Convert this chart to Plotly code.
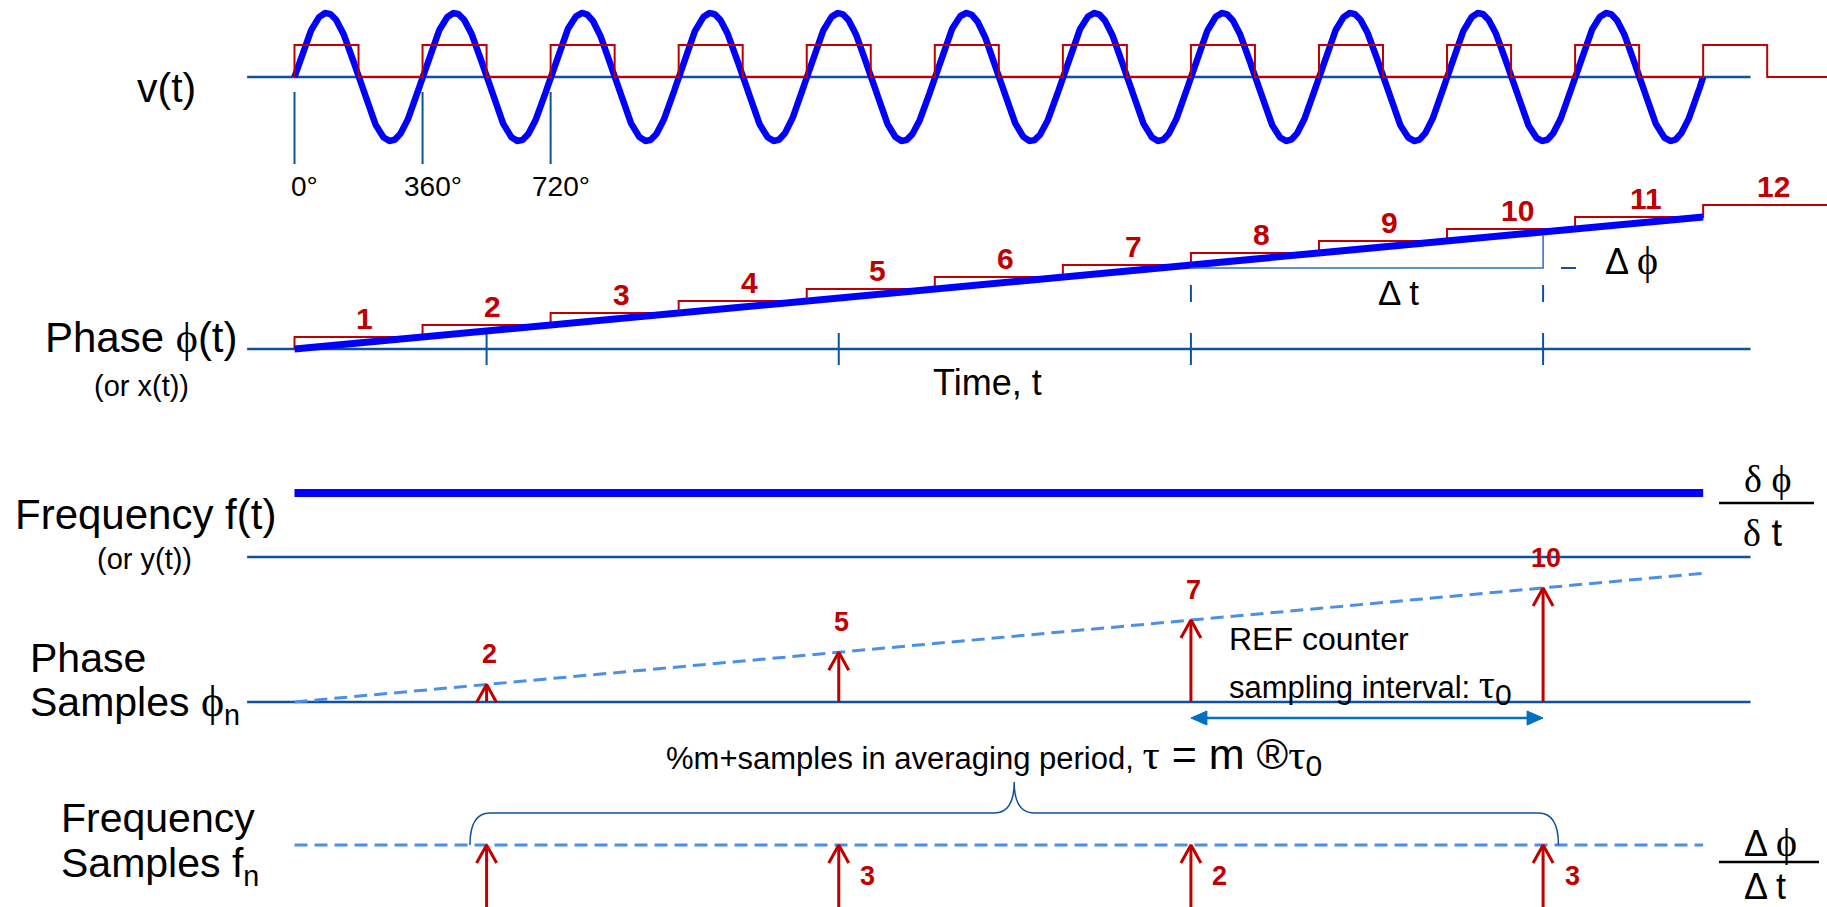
import numpy as np
import plotly.graph_objects as go

# ---------------- data ----------------
N_CYCLES = 11                                   # sine cycles drawn
degree_cycles = [0, 1, 2]                       # cycles carrying a degree marker
degree_labels = ["0°", "360°", "720°"]
step_counts = [1, 2, 3, 4, 5, 6, 7, 8, 9, 10, 11, 12]   # cycle counter values
sample_times = [1.5, 4.25, 7.0, 9.75]           # REF sampling instants (cycles)
phase_samples = ["2", "5", "7", "10"]           # counter read at each sample
freq_samples = ["", "3", "2", "3"]              # differences of successive samples

# ---------------- layout constants ----------------
W, H = 1827, 907
X0, PERIOD = 294.5, 128.06          # pixel column of t=0, pixels per cycle
XMIN, XMAX = -X0 / PERIOD, (W - X0) / PERIOD
AX_L, AX_R = -0.37, 11.37            # extent of the baseline rules (cycles)

Y_V, V_AMP, SQ_H = 77, 64, 32
Y_PH, PH_SCALE = 349, 12.0
Y_F, Y_FAX = 493, 557
Y_PS, PS_SCALE = 702, 11.7
Y_FS = 845

AXC = "#1050a0"
BLUE = "#0000ff"
RED = "#c00000"
DASHC = "#4a90e8"
ARR2 = "#0070c0"
BRK = "#2e6db4"
SANS = "Liberation Sans, Arial, sans-serif"
SER = "Liberation Serif,DejaVu Serif"


def T(p):
    return (p - X0) / PERIOD


def dx(p):
    return p / PERIOD


fig = go.Figure()


def line(xs, ys, color, width, dash=None, fill=None):
    fig.add_trace(go.Scatter(x=xs, y=ys, mode="lines",
                             line=dict(color=color, width=width, dash=dash),
                             fill=fill, fillcolor=color if fill else None,
                             hoverinfo="skip", showlegend=False))


def sp(s):
    return '<span style="font-family:%s">%s</span>' % (SER, s)


def text(x, y, s, size, anchor="center", color="black", bold=False, xshift=0, yshift=0, data=False):
    fig.add_annotation(x=x if data else T(x), y=y, text=("<b>%s</b>" % s) if bold else s,
                       showarrow=False, xanchor=anchor, yanchor="middle",
                       xshift=xshift, yshift=yshift,
                       font=dict(family=SANS, size=size, color=color))


# ---------- panel 1 : v(t) ----------
line([AX_L, AX_R], [Y_V, Y_V], AXC, 2.5)
tt = np.linspace(0, N_CYCLES, 3000)
line(tt, Y_V - V_AMP * np.sin(2 * np.pi * tt), BLUE, 6.5)
sx, sy = [], []
for n in range(N_CYCLES + 1):
    sx += [n, n, n + 0.5, n + 0.5]
    sy += [Y_V, Y_V - SQ_H, Y_V - SQ_H, Y_V]
sx.append(XMAX + 0.1)
sy.append(Y_V)
line(sx, sy, RED, 2)
for c, lab in zip(degree_cycles, degree_labels):
    line([c, c], [92, 164], AXC, 2)
    text(c, 186, lab, 28, xshift=10, data=True)
text(166, 88, "v(t)", 41)

# ---------- panel 2 : phase ----------
line([AX_L, AX_R], [Y_PH, Y_PH], AXC, 2.5)
for ts in sample_times:
    line([ts, ts], [333, 365], AXC, 2)
for ts in sample_times[2:]:
    line([ts, ts], [285, 302], AXC, 2)
px_, py_ = [0], [Y_PH]
for k in step_counts:
    yk = Y_PH - PH_SCALE * k
    px_ += [k - 1, k if k < step_counts[-1] else XMAX + 0.1]
    py_ += [yk, yk]
line(px_, py_, RED, 2)
line([0, N_CYCLES], [Y_PH, Y_PH - PH_SCALE * N_CYCLES], BLUE, 7)
for k in step_counts:
    text(k - 0.5 + 0.05, Y_PH - PH_SCALE * k, str(k), 30, color=RED, bold=True,
         yshift=19, data=True)
t_a, t_b = sample_times[2], sample_times[3]
line([t_a, t_b, t_b], [Y_PH - PH_SCALE * t_a + 3, Y_PH - PH_SCALE * t_a + 3,
                       Y_PH - PH_SCALE * t_b + 3], BRK, 1.5)
line([T(1561), T(1576)], [Y_PH - PH_SCALE * t_a + 3] * 2, AXC, 2)
text(1398, 292, "Δ t", 35)
text(1631, 260, "Δ " + sp('<span style="font-size:40px">ϕ</span>'), 36)
text(987, 382, "Time, t", 36)
text(141, 337, "Phase " + sp("ϕ") + "(t)", 42)
text(141, 386, "(or x(t))", 29)

# ---------- panel 3 : frequency ----------
line([0, N_CYCLES], [Y_F, Y_F], BLUE, 8)
line([AX_L, AX_R], [Y_FAX, Y_FAX], AXC, 2.5)
text(145, 514, "Frequency f(t)", 42)
text(144, 559, "(or y(t))", 29)
text(1767, 479, sp("δ ϕ"), 38)
line([T(1719), T(1814)], [503, 503], "black", 2.5)
text(1762, 533, sp("δ") + " t", 38)

# ---------- panel 4 : phase samples ----------
line([AX_L, AX_R], [Y_PS, Y_PS], AXC, 2.5)
line([0, N_CYCLES], [Y_PS, Y_PS - PS_SCALE * N_CYCLES], DASHC, 3, dash="13px,7px")
ax_, ay_ = [], []
for ts in sample_times:
    tip = Y_PS - PS_SCALE * ts
    ax_ += [ts, ts, None, ts - dx(10), ts, ts + dx(10), None]
    ay_ += [Y_PS, tip, None, tip + 18, tip, tip + 18, None]
line(ax_, ay_, RED, 3)
for ts, lab in zip(sample_times, phase_samples):
    text(ts, Y_PS - PS_SCALE * ts, lab, 27, color=RED, bold=True, xshift=3, yshift=30, data=True)
YA = 718
line([t_a + dx(14), t_b - dx(14)], [YA, YA], ARR2, 2.5)
line([t_a, t_a + dx(16), t_a + dx(16), t_a], [YA, YA - 7, YA + 7, YA], ARR2, 1, fill="toself")
line([t_b, t_b - dx(16), t_b - dx(16), t_b], [YA, YA - 7, YA + 7, YA], ARR2, 1, fill="toself")
text(1227, 639, "REF counter", 32, anchor="left")
text(1227, 686, "sampling interval: " + sp('<span style="font-size:40px">τ</span>')
     + '<sub><span style="font-size:30px">0</span></sub>', 31, anchor="left")
text(28, 658, "Phase", 41, anchor="left")
text(28, 704, "Samples " + sp('<span style="font-size:44px">ϕ</span>') + "<sub>n</sub>", 41, anchor="left")

# ---------- panel 5 : frequency samples ----------
line([0, N_CYCLES], [Y_FS, Y_FS], DASHC, 3, dash="13px,7px")
bx, by = [], []
for ts in sample_times:
    bx += [ts, ts, None, ts - dx(10), ts, ts + dx(10), None]
    by += [H + 10, Y_FS, None, Y_FS + 18, Y_FS, Y_FS + 18, None]
line(bx, by, RED, 3)
for ts, lab in zip(sample_times, freq_samples):
    if lab:
        text(ts, Y_FS, lab, 27, color=RED, bold=True, xshift=29, yshift=-31, data=True)

bl, br = sample_times[0] - 0.13, sample_times[-1] + 0.12
bc, d = (bl + br) / 2, dx(20)
yb, ytop = 813, 782
path = (f"M {bl},{Y_FS} Q {bl},{yb} {bl + d},{yb} L {bc - d},{yb} Q {bc},{yb} {bc},{ytop} "
        f"Q {bc},{yb} {bc + d},{yb} L {br - d},{yb} Q {br},{yb} {br},{Y_FS}")
fig.add_shape(type="path", path=path, xref="x", yref="y", line=dict(color=AXC, width=1.5))

BIG = 'font-size:43px'
text(664, 756, "%m+samples in averaging period, "
     + '<span style="font-family:%s;%s">τ</span>' % (SER, BIG)
     + '<span style="%s"> = m ®</span>' % BIG
     + '<span style="font-family:%s;%s">τ</span>' % (SER, BIG)
     + '<sub><span style="font-size:30px">0</span></sub>', 31, anchor="left")
text(59, 818, "Frequency", 41, anchor="left")
text(59, 866, "Samples f<sub>n</sub>", 41, anchor="left")
text(1770, 842, "Δ " + sp('<span style="font-size:40px">ϕ</span>'), 36)
line([T(1719), T(1819)], [862, 862], "black", 2.5)
text(1765, 886, "Δ t", 36)

fig.update_layout(width=W, height=H, autosize=False,
                  margin=dict(l=0, r=0, t=0, b=0),
                  paper_bgcolor="white", plot_bgcolor="white", showlegend=False,
                  xaxis=dict(range=[XMIN, XMAX], visible=False, fixedrange=True),
                  yaxis=dict(range=[H, 0], visible=False, fixedrange=True))
fig.write_html("out.html")
